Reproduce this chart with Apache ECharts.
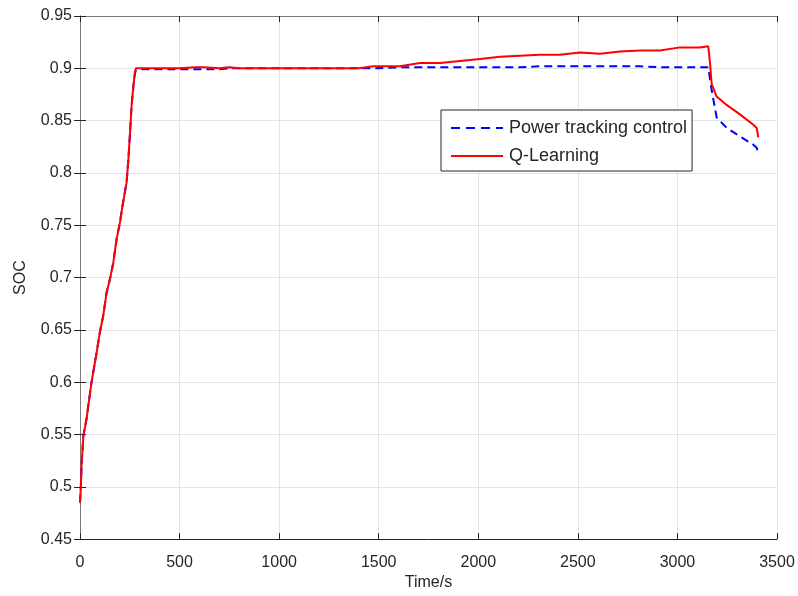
<!DOCTYPE html>
<html>
<head>
<meta charset="utf-8">
<title>SOC</title>
<script src="https://cdn.jsdelivr.net/npm/echarts@6/dist/echarts.min.js"></script>
<style>
  html, body { margin: 0; padding: 0; background: #fff; }
  #chart { width: 798px; height: 596px; }
</style>
</head>
<body>
<div id="chart"></div>
<script>
// Sample times (s) shared by both traces
const timeS = [0, 4, 8, 17, 33, 42, 58, 67, 84, 100, 117, 134, 151, 167, 184, 201, 213, 234, 243, 251,
  259, 268, 276, 281, 290, 300, 400, 500, 580, 620, 700, 750, 800, 1000, 1200, 1400, 1473, 1607, 1707, 1808,
  1908, 2009, 2109, 2209, 2310, 2410, 2511, 2611, 2712, 2812, 2912, 3013, 3113, 3155, 3164, 3172, 3197, 3247,
  3314, 3381, 3398, 3406];

// State of charge under power tracking control
const socPowerTracking = [0.485, 0.499, 0.521, 0.549, 0.565, 0.578, 0.600, 0.610, 0.629, 0.648, 0.664, 0.686, 0.699, 0.714, 0.737, 0.753, 0.768, 0.791, 0.813,
  0.838, 0.864, 0.883, 0.895, 0.898, 0.899, 0.899, 0.899, 0.899, 0.899, 0.899, 0.899, 0.900, 0.900, 0.900, 0.900, 0.900, 0.900, 0.901, 0.901, 0.901,
  0.901, 0.901, 0.901, 0.901, 0.902, 0.902, 0.902, 0.902, 0.902, 0.902, 0.901, 0.901, 0.901, 0.901, 0.901, 0.879, 0.853, 0.843,
  0.835, 0.827, 0.824, 0.819];

// State of charge under the Q-Learning strategy
const socQLearning = [0.485, 0.499, 0.521, 0.549, 0.565, 0.578, 0.600, 0.610, 0.629, 0.648, 0.664, 0.686, 0.699, 0.714, 0.737, 0.753, 0.768, 0.791, 0.813,
  0.838, 0.864, 0.883, 0.897, 0.900, 0.900, 0.900, 0.900, 0.900, 0.901, 0.901, 0.900, 0.901, 0.900, 0.900, 0.900, 0.900, 0.902, 0.902, 0.905, 0.905,
  0.907, 0.909, 0.911, 0.912, 0.913, 0.913, 0.915, 0.914, 0.916, 0.917, 0.917, 0.920, 0.920, 0.921, 0.904, 0.885, 0.873, 0.865,
  0.856, 0.846, 0.843, 0.834];

const xTicks = { min: 0, max: 3500, step: 500 };
const yTicks = { min: 0.45, max: 0.95, step: 0.05 };
const seriesNames = ['Power tracking control', 'Q-Learning'];

const pairs = (ys) => timeS.map((t, i) => [t, ys[i]]);

const font = '"Liberation Sans", Arial, Helvetica, sans-serif';
const textColor = '#262626';
const frameColor = '#7a7a7a';
const gridColor = '#e3e3e3';

// Legend keys: a dashed stroke and a solid stroke, drawn as filled paths
const dashedKey = 'path://M0,0h9v2h-9zM15,0h9v2h-9zM30,0h9v2h-9zM45,0h7v2h-7z';
const solidKey = 'path://M0,0h52v2h-52z';

const chart = echarts.init(document.getElementById('chart'), null, { renderer: 'canvas' });

chart.setOption({
  animation: false,
  backgroundColor: '#ffffff',
  textStyle: { fontFamily: font },
  grid: { left: 80, right: 21, top: 16, bottom: 55, containLabel: false },
  legend: {
    left: 441,
    top: 110,
    orient: 'vertical',
    backgroundColor: '#ffffff',
    borderColor: '#262626',
    borderWidth: 1,
    borderRadius: 0,
    padding: [9, 5, 6, 10],
    itemWidth: 52,
    itemHeight: 2,
    itemGap: 10,
    textStyle: { fontFamily: font, fontSize: 18, lineHeight: 18, color: textColor, padding: [0, 0, 0, 1] },
    data: [
      { name: seriesNames[0], icon: dashedKey },
      { name: seriesNames[1], icon: solidKey }
    ]
  },
  xAxis: [
    {
      type: 'value', position: 'bottom',
      min: xTicks.min, max: xTicks.max, interval: xTicks.step,
      name: 'Time/s', nameLocation: 'middle', nameGap: 30,
      nameTextStyle: { fontFamily: font, fontSize: 16, color: textColor },
      axisLine: { show: true, lineStyle: { color: textColor, width: 1 } },
      axisTick: { show: true, inside: true, length: 6, lineStyle: { color: textColor } },
      axisLabel: { fontFamily: font, fontSize: 16, color: textColor, margin: 15, formatter: (v) => String(v) },
      splitLine: { show: true, lineStyle: { color: gridColor, width: 1 } }
    },
    {
      type: 'value', position: 'top',
      min: xTicks.min, max: xTicks.max, interval: xTicks.step,
      axisLine: { show: true, lineStyle: { color: frameColor, width: 1 } },
      axisTick: { show: true, inside: true, length: 6, lineStyle: { color: textColor } },
      axisLabel: { show: false },
      splitLine: { show: false }
    }
  ],
  yAxis: [
    {
      type: 'value', position: 'left',
      min: yTicks.min, max: yTicks.max, interval: yTicks.step,
      name: 'SOC', nameLocation: 'middle', nameGap: 51, nameRotate: 90,
      nameTextStyle: { fontFamily: font, fontSize: 16, color: textColor },
      axisLine: { show: true, lineStyle: { color: frameColor, width: 1 } },
      axisTick: { show: true, inside: true, length: 6, lineStyle: { color: textColor } },
      axisLabel: {
        fontFamily: font, fontSize: 16, color: textColor, margin: 8,
        formatter: (v) => String(+v.toFixed(2))
      },
      splitLine: { show: true, lineStyle: { color: gridColor, width: 1 } }
    },
    {
      type: 'value', position: 'right',
      min: yTicks.min, max: yTicks.max, interval: yTicks.step,
      axisLine: { show: true, lineStyle: { color: frameColor, width: 1 } },
      axisTick: { show: true, inside: true, length: 6, lineStyle: { color: textColor } },
      axisLabel: { show: false },
      splitLine: { show: false }
    }
  ],
  series: [
    {
      name: seriesNames[0],
      type: 'line',
      xAxisIndex: 0, yAxisIndex: 0,
      data: pairs(socPowerTracking),
      showSymbol: false, symbol: 'none',
      lineStyle: { color: '#0000ff', width: 2, type: [8, 5] },
      itemStyle: { color: '#0000ff' },
      z: 2
    },
    {
      name: seriesNames[1],
      type: 'line',
      xAxisIndex: 0, yAxisIndex: 0,
      data: pairs(socQLearning),
      showSymbol: false, symbol: 'none',
      lineStyle: { color: '#ff0000', width: 2 },
      itemStyle: { color: '#ff0000' },
      z: 3
    }
  ]
});
</script>
</body>
</html>
